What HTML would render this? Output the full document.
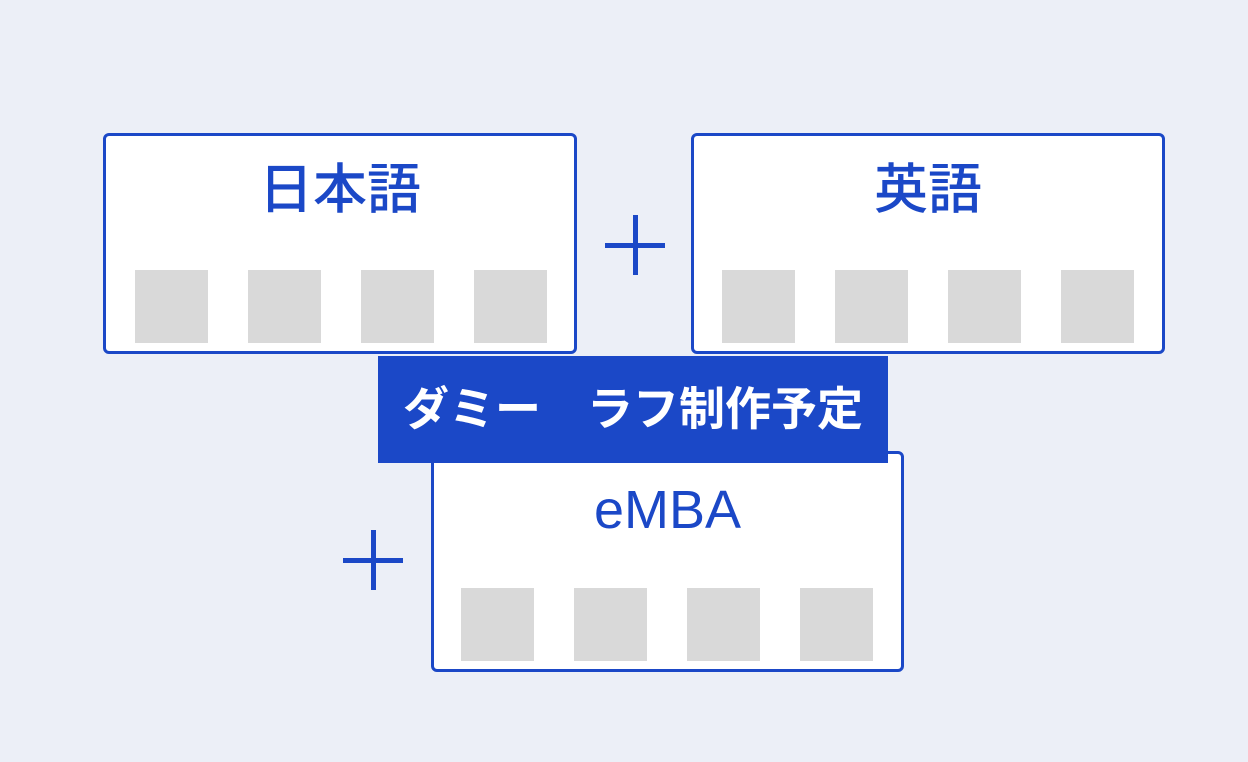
<!DOCTYPE html>
<html><head><meta charset="utf-8"><style>
body{margin:0;width:1248px;height:762px;background:#eceff7;position:relative;overflow:hidden;font-family:"Liberation Sans","Noto Sans CJK JP",sans-serif;}
.box{position:absolute;box-sizing:border-box;border:3px solid #1b48c7;border-radius:6px;background:#fff;}
.t{position:absolute;left:0;right:0;text-align:center;color:#1b48c7;font-size:54px;font-weight:500;line-height:1;}
.sq{position:absolute;width:73px;height:73px;background:#d9d9d9;}
.plus{position:absolute;width:60px;height:60px;}
.plus:before,.plus:after{content:"";position:absolute;background:#1b48c7;}
.plus:before{left:0;right:0;top:28px;height:5px;}
.plus:after{top:0;bottom:0;left:28px;width:5px;}
.banner{position:absolute;left:378px;top:356px;width:510px;height:107px;background:#1b48c7;color:#fff;font-size:46px;font-weight:bold;text-align:center;line-height:107px;white-space:pre;}
</style></head><body>
<div class="box" style="left:103px;top:133px;width:474px;height:221px;">
<div class="t" style="top:27px;">日本語</div>
<div class="sq" style="left:29px;top:134px"></div><div class="sq" style="left:142px;top:134px"></div><div class="sq" style="left:255px;top:134px"></div><div class="sq" style="left:368px;top:134px"></div>
</div>
<div class="box" style="left:691px;top:133px;width:474px;height:221px;">
<div class="t" style="top:27px;">英語</div>
<div class="sq" style="left:28px;top:134px"></div><div class="sq" style="left:141px;top:134px"></div><div class="sq" style="left:254px;top:134px"></div><div class="sq" style="left:367px;top:134px"></div>
</div>
<div class="box" style="left:431px;top:451px;width:473px;height:221px;">
<div class="t" style="top:29px;">eMBA</div>
<div class="sq" style="left:27px;top:134px"></div><div class="sq" style="left:140px;top:134px"></div><div class="sq" style="left:253px;top:134px"></div><div class="sq" style="left:366px;top:134px"></div>
</div>
<div class="plus" style="left:605px;top:215px"></div>
<div class="plus" style="left:343px;top:530px"></div>
<div class="banner">ダミー　ラフ制作予定</div>
</body></html>
